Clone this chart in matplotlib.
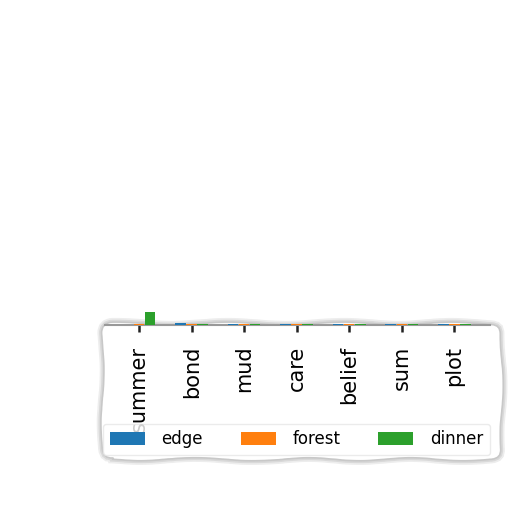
import matplotlib
matplotlib.use("Agg")
import matplotlib.pyplot as plt
import matplotlib.patheffects as pe
from matplotlib.patches import FancyBboxPatch
import numpy as np

categories = ["summer", "bond", "mud", "care", "belief", "sum", "plot"]
series_names = ["edge", "forest", "dinner"]
edge = [0.0, 1.3, 0.9, 1.0, 0.9, 1.0, 0.9]
forest = [1.0, 0.7, 0.6, 0.6, 0.5, 0.7, 0.5]
dinner = [9.5, 1.0, 0.8, 0.7, 0.7, 0.9, 0.7]
COLORS = ["#1f77b4", "#ff7f0e", "#2ca02c"]

plt.rcParams["font.family"] = ["DejaVu Sans"]
fig = plt.figure(figsize=(5.12, 5.12), dpi=100)

# white sketchy card with soft grey rim behind tick labels + legend
card = FancyBboxPatch((0.205, 0.108), 0.77, 0.255,
                      boxstyle="round,pad=0.005,rounding_size=0.02",
                      transform=fig.transFigure, facecolor="white",
                      edgecolor="#c8c8c8", lw=1.2, zorder=-5,
                      path_effects=[pe.SimplePatchShadow(offset=(2, -2), shadow_rgbFace="0.6", alpha=0.5),
                                    pe.Stroke(linewidth=6, foreground="0.93"),
                                    pe.Stroke(linewidth=3.5, foreground="0.85"),
                                    pe.Normal()])
card.set_sketch_params(scale=1.5, length=120, randomness=2)
fig.patches.append(card)

ax = fig.add_axes([105/512, 187/512, 385/512, 30/512])
ax.set_zorder(1)
ax.patch.set_alpha(0)
x = np.arange(len(categories))
w = 0.2
for i, (vals, name) in enumerate(zip([edge, forest, dinner], series_names)):
    ax.bar(x + (i - 1) * 0.21, vals, w, color=COLORS[i], label=name, zorder=3)

ax.set_xlim(-0.65, 6.68)
ax.set_ylim(0, 22)
ax.set_xticks(x)
ax.set_xticklabels(categories, rotation=90, fontsize=15)
ax.tick_params(axis="x", length=5, width=1.8, pad=10, direction="out", color="#222222")
ax.set_yticks([])
for s in ["top", "right", "left"]:
    ax.spines[s].set_visible(False)
ax.spines["bottom"].set_color("#999999")
ax.spines["bottom"].set_linewidth(1.5)

leg = ax.legend(loc="lower left", ncol=3, mode="expand",
                bbox_to_anchor=(103/512, 57/512, 387/512, 30/512),
                bbox_transform=fig.transFigure, fontsize=12,
                handlelength=2.1, handleheight=0.8, handletextpad=1.0,
                frameon=True, fancybox=True, borderaxespad=0)
leg.get_frame().set_edgecolor("#e6e6e6")
leg.get_frame().set_linewidth(1)

fig.savefig("out.png", dpi=100)
